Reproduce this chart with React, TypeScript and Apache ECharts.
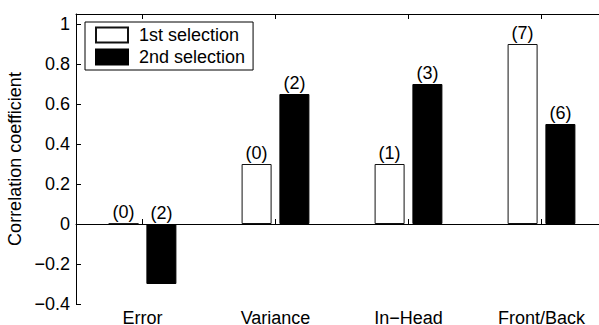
import React, { useEffect, useRef } from "react";
import * as echarts from "echarts";

const categories = ["Error", "Variance", "In\u2212Head", "Front/Back"];
const firstSelection = [0, 0.3, 0.3, 0.9];
const secondSelection = [-0.3, 0.65, 0.7, 0.5];
const firstCounts = ["(0)", "(0)", "(1)", "(7)"];
const secondCounts = ["(2)", "(2)", "(3)", "(6)"];
const seriesNames = ["1st selection", "2nd selection"];
const yTitle = "Correlation coefficient";

const FONT = "'Liberation Sans', Arial, Helvetica, sans-serif";
const FS = 18;

function fmtTick(v: number): string {
  if (v > 1.01) return "";
  const r = Math.round(v * 10) / 10;
  const s = String(r);
  return s.replace("-", "\u2212");
}

export default function App() {
  const ref = useRef<HTMLDivElement>(null);
  useEffect(() => {
    document.body.style.margin = "0";
    if (!ref.current) return;
    const chart = echarts.init(ref.current, undefined, { renderer: "svg" });
    const labelBase = {
      show: true,
      position: "top" as const,
      distance: 2,
      fontSize: FS,
      fontFamily: FONT,
      color: "#000",
    };
    const firstData = firstSelection.map((v) =>
      v === 0
        ? { value: v, itemStyle: { color: "#222", borderWidth: 0 } }
        : v
    );
    chart.setOption({
      animation: false,
      backgroundColor: "#fff",
      textStyle: { fontFamily: FONT },
      grid: {
        left: 76,
        top: 14,
        bottom: 21,
        right: -9,
        containLabel: false,
        outerBoundsMode: "none",
      },
      legend: {
        data: seriesNames,
        orient: "vertical",
        left: 85,
        top: 22,
        itemWidth: 32,
        itemHeight: 15,
        itemGap: 4,
        padding: [4, 8, 4, 10],
        borderColor: "#000",
        borderWidth: 1,
        backgroundColor: "#fff",
        icon: "rect",
        textStyle: {
          fontSize: FS,
          lineHeight: 17,
          fontFamily: FONT,
          color: "#000",
          padding: [0, 0, 0, 6],
        },
      },
      xAxis: [
        {
          type: "category",
          data: categories,
          position: "bottom",
          axisLine: { show: true, lineStyle: { color: "#000", width: 1 } },
          axisTick: { show: true, inside: true, length: 5, alignWithLabel: true, lineStyle: { color: "#000" } },
          axisLabel: { fontSize: FS, fontFamily: FONT, color: "#000", margin: 5 },
          splitLine: { show: false },
        },
        {
          type: "category",
          data: categories,
          position: "top",
          axisLine: { show: true, lineStyle: { color: "#000", width: 1 } },
          axisTick: { show: true, inside: true, length: 5, alignWithLabel: true, lineStyle: { color: "#000" } },
          axisLabel: { show: false },
          splitLine: { show: false },
        },
      ],
      yAxis: {
        type: "value",
        min: -0.4,
        max: 1.05,
        interval: 0.2,
        name: yTitle,
        nameLocation: "middle",
        nameGap: 46,
        nameTextStyle: { fontSize: FS, fontFamily: FONT, color: "#000" },
        axisLine: { show: true, lineStyle: { color: "#000", width: 1 } },
        axisTick: { show: true, inside: true, length: 5, lineStyle: { color: "#000" } },
        axisLabel: {
          fontSize: FS,
          fontFamily: FONT,
          color: "#000",
          margin: 6,
          showMaxLabel: false,
          formatter: fmtTick,
        },
        splitLine: { show: false },
      },
      series: [
        {
          name: seriesNames[0],
          type: "bar",
          data: firstData,
          barWidth: 30,
          barGap: "26%",
          barMinHeight: 1,
          itemStyle: { color: "#fff", borderColor: "#111", borderWidth: 1 },
          label: { ...labelBase, formatter: (p: any) => firstCounts[p.dataIndex] },
        },
        {
          name: seriesNames[1],
          type: "bar",
          data: secondSelection,
          barWidth: 30,
          barGap: "26%",
          itemStyle: { color: "#000", borderColor: "#000", borderWidth: 1 },
          label: { ...labelBase, formatter: (p: any) => secondCounts[p.dataIndex] },
        },
      ],
    });
    return () => chart.dispose();
  }, []);
  return <div ref={ref} style={{ width: 599, height: 325 }} />;
}
